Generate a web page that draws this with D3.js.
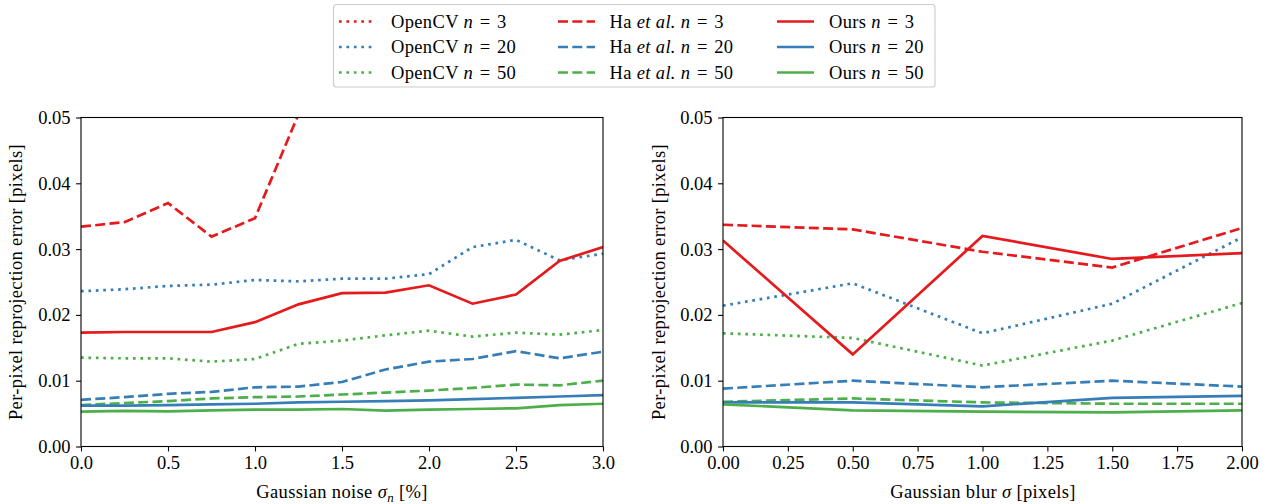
<!DOCTYPE html>
<html><head><meta charset="utf-8">
<script src="https://cdn.jsdelivr.net/npm/d3@7"></script>
<style>
html,body{margin:0;padding:0;background:#fff;}
svg text{font-family:"Liberation Serif","DejaVu Serif",serif;fill:#000;}
</style></head>
<body><svg id="chart" width="1274" height="504"></svg>
<script>
// ---- data ----
const noiseX = [0, 0.25, 0.5, 0.75, 1.0, 1.25, 1.5, 1.75, 2.0, 2.25, 2.5, 2.75, 3.0];
const blurX = [0, 0.5, 1.0, 1.5, 2.0];
const yTicks = [0, 0.01, 0.02, 0.03, 0.04, 0.05];
const noiseTicks = [0, 0.5, 1.0, 1.5, 2.0, 2.5, 3.0];
const blurTicks = [0, 0.25, 0.5, 0.75, 1.0, 1.25, 1.5, 1.75, 2.0];

const noiseOpenCV3 = [];
const noiseOpenCV20 = [0.0236, 0.0239, 0.0244, 0.0246, 0.0253, 0.0251, 0.0255, 0.0255, 0.0262, 0.0303, 0.0314, 0.0283, 0.0293];
const noiseOpenCV50 = [0.0135, 0.0134, 0.0134, 0.0129, 0.0133, 0.0156, 0.0161, 0.0169, 0.0176, 0.0167, 0.0173, 0.0170, 0.0177];
const noiseHa3 = [0.0334, 0.0341, 0.0370, 0.0319, 0.0347, 0.0505];
const noiseHa20 = [0.0071, 0.0075, 0.0080, 0.0083, 0.0090, 0.0091, 0.0098, 0.0117, 0.0129, 0.0133, 0.0145, 0.0134, 0.0144];
const noiseHa50 = [0.0063, 0.0066, 0.0069, 0.0073, 0.0075, 0.0076, 0.0079, 0.0082, 0.0085, 0.0089, 0.0094, 0.0093, 0.0100];
const noiseOurs3 = [0.0173, 0.0174, 0.0174, 0.0174, 0.0189, 0.0216, 0.0233, 0.0234, 0.0245, 0.0217, 0.0231, 0.0282, 0.0303];
const noiseOurs20 = [0.0062, 0.0062, 0.0063, 0.0064, 0.0065, 0.0067, 0.0068, 0.0069, 0.0070, 0.0072, 0.0074, 0.0076, 0.0078];
const noiseOurs50 = [0.0053, 0.0054, 0.00535, 0.0055, 0.0056, 0.0056, 0.0057, 0.00545, 0.0056, 0.0057, 0.0058, 0.0063, 0.0065];

const blurOpenCV3 = [];
const blurOpenCV20 = [0.0214, 0.0248, 0.0172, 0.0217, 0.0318];
const blurOpenCV50 = [0.0172, 0.0165, 0.0123, 0.0161, 0.0218];
const blurHa3 = [0.0337, 0.0330, 0.0296, 0.0272, 0.0332];
const blurHa20 = [0.0088, 0.0100, 0.0090, 0.0100, 0.0091];
const blurHa50 = [0.0068, 0.0073, 0.0067, 0.0065, 0.0065];
const blurOurs3 = [0.0313, 0.0140, 0.0320, 0.0285, 0.0294];
const blurOurs20 = [0.0067, 0.0067, 0.0061, 0.0074, 0.0077];
const blurOurs50 = [0.0064, 0.0055, 0.0053, 0.0052, 0.0055];

const methods = ["OpenCV", "Ha", "Ours"];
const nValues = ["3", "20", "50"];
const colors = {"3": "#e41a1c", "20": "#377eb8", "50": "#4daf4a"};

// ---- layout ----
const LW = 2.7;
const dashes = {OpenCV: `${LW} ${LW * 1.75}`, Ha: `${LW * 3.7} ${LW * 1.6}`, Ours: null};
const svg = d3.select("#chart");
const FS = 18.5;
const LS = "0.35px";

function panel(x0, x1, xDomain, xTicks, xFmt, xs, seriesMap, clipId) {
  const y0 = 446.5, y1 = 117.5;
  const x = d3.scaleLinear().domain(xDomain).range([x0, x1]);
  const y = d3.scaleLinear().domain([0, 0.05]).range([y0, y1]);
  const g = svg.append("g");
  svg.append("defs").append("clipPath").attr("id", clipId)
    .append("rect").attr("x", x0).attr("y", y1).attr("width", x1 - x0).attr("height", y0 - y1);
  const lg = g.append("g").attr("clip-path", `url(#${clipId})`);
  const line = d3.line().x(d => x(d[0])).y(d => y(d[1]));
  methods.forEach(m => nValues.forEach(n => {
    const vals = seriesMap[m][n];
    if (!vals.length) return;
    const pts = vals.map((v, i) => [xs[i], v]);
    const p = lg.append("path").attr("d", line(pts)).attr("fill", "none")
      .attr("stroke", colors[n]).attr("stroke-width", LW);
    if (dashes[m]) p.attr("stroke-dasharray", dashes[m]);
  }));
  const xa = g.append("g").attr("transform", `translate(0,${y0})`)
    .call(d3.axisBottom(x).tickValues(xTicks).tickFormat(xFmt).tickSize(4.9).tickPadding(4.5));
  const ya = g.append("g").attr("transform", `translate(${x0},0)`)
    .call(d3.axisLeft(y).tickValues(yTicks).tickFormat(d3.format(".2f")).tickSize(4.9).tickPadding(5.5));
  [xa, ya].forEach(a => {
    a.select(".domain").remove();
    a.selectAll("line").attr("stroke", "#000").attr("stroke-width", 1.1);
    a.selectAll("text").style("font-family", '"Liberation Serif", serif').style("font-size", FS + "px");
  });
  g.append("rect").attr("x", x0).attr("y", y1).attr("width", x1 - x0).attr("height", y0 - y1)
    .attr("fill", "none").attr("stroke", "#000").attr("stroke-width", 1.1);
  return {x, y};
}

panel(81, 603, [0, 3], noiseTicks, d3.format(".1f"), noiseX, {
  OpenCV: {"3": noiseOpenCV3, "20": noiseOpenCV20, "50": noiseOpenCV50},
  Ha: {"3": noiseHa3, "20": noiseHa20, "50": noiseHa50},
  Ours: {"3": noiseOurs3, "20": noiseOurs20, "50": noiseOurs50}
}, "clipL");
panel(723, 1242, [0, 2], blurTicks, d3.format(".2f"), blurX, {
  OpenCV: {"3": blurOpenCV3, "20": blurOpenCV20, "50": blurOpenCV50},
  Ha: {"3": blurHa3, "20": blurHa20, "50": blurHa50},
  Ours: {"3": blurOurs3, "20": blurOurs20, "50": blurOurs50}
}, "clipR");

// axis labels
function xlabel(cx, parts) {
  const t = svg.append("text").attr("x", cx).attr("y", 498).attr("text-anchor", "middle")
    .style("font-size", FS + "px").style("letter-spacing", LS);
  parts.forEach(p => {
    const s = t.append("tspan").text(p.t);
    if (p.i) s.style("font-style", "italic");
    if (p.sub) s.attr("dy", 4).style("font-size", (FS * 0.7) + "px");
    if (p.after) s.attr("dy", -4);
  });
}
xlabel(342, [{t: "Gaussian noise "}, {t: "σ", i: true}, {t: "n", i: true, sub: true}, {t: " [%]", after: true}]);
xlabel(983, [{t: "Gaussian blur "}, {t: "σ", i: true}, {t: " [pixels]"}]);
[17, 660].forEach(cx => {
  svg.append("text").attr("transform", `translate(${cx + 5},282) rotate(-90)`)
    .attr("text-anchor", "middle").style("font-size", FS + "px").style("letter-spacing", LS)
    .text("Per-pixel reprojection error [pixels]");
});

// legend
const leg = svg.append("g");
leg.append("rect").attr("x", 333.5).attr("y", 4.5).attr("width", 601.5).attr("height", 82.5)
  .attr("rx", 3).attr("fill", "#fff").attr("stroke", "#cccccc").attr("stroke-width", 1.1);
const colX = {OpenCV: 339, Ha: 558, Ours: 777};
const textX = {OpenCV: 391, Ha: 609.5, Ours: 829};
const rowY = {"3": 21.5, "20": 47, "50": 72.5};
methods.forEach(m => nValues.forEach(n => {
  const ly = rowY[n];
  const p = leg.append("line").attr("x1", colX[m]).attr("x2", colX[m] + 37).attr("y1", ly).attr("y2", ly)
    .attr("stroke", colors[n]).attr("stroke-width", LW);
  if (dashes[m]) p.attr("stroke-dasharray", dashes[m]);
  const t = leg.append("text").attr("x", textX[m]).attr("y", ly + 6.3)
    .style("font-size", FS + "px").style("letter-spacing", LS);
  if (m === "Ha") {
    t.append("tspan").text("Ha ");
    t.append("tspan").text("et al.").style("font-style", "italic");
    t.append("tspan").text(" ");
  } else {
    t.append("tspan").text(m + " ");
  }
  t.append("tspan").text("n").style("font-style", "italic");
  t.append("tspan").attr("dx", 6.5).text("=");
  t.append("tspan").attr("dx", 6.5).text(n);
}));
</script>
</body></html>
